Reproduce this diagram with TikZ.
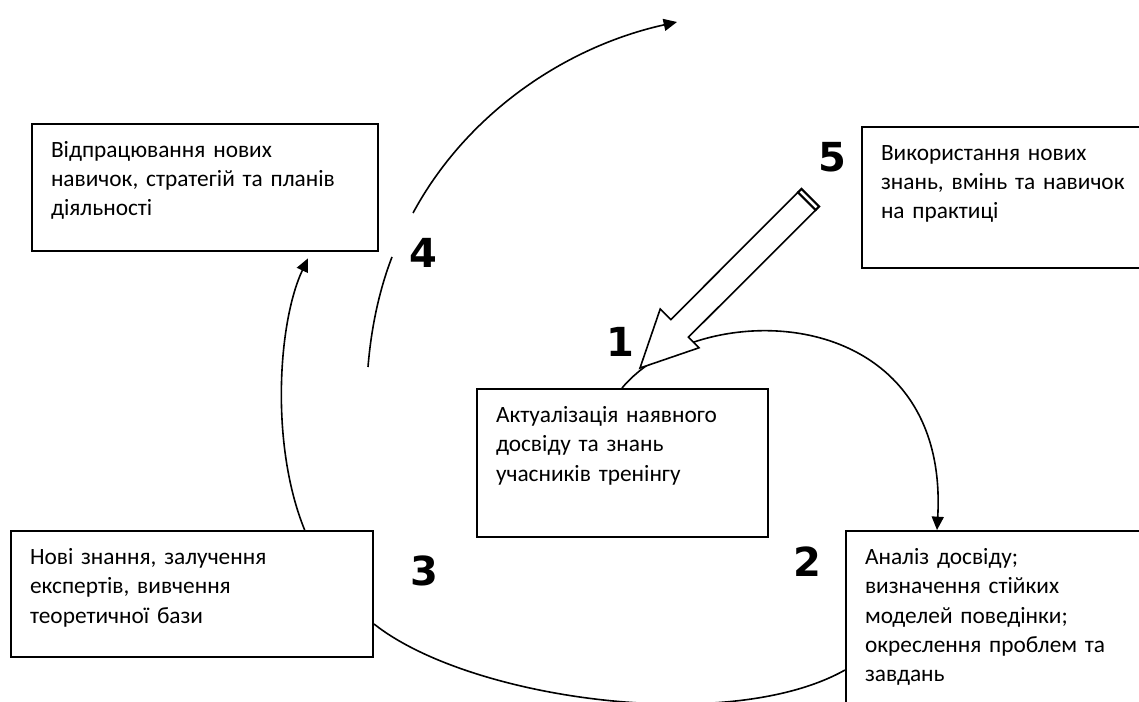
\documentclass[tikz,border=0pt]{standalone}
\usepackage{fontspec}
\setmainfont{Carlito}
\newfontfamily\numfont{DejaVu Sans}
\usetikzlibrary{calc}
\usetikzlibrary{positioning}
\usetikzlibrary{arrows.meta}
\tikzset{
  stage/.style={draw, line width=1.5pt, fill=white, anchor=north west, align=left,
    inner xsep=14.25pt, inner ysep=0pt, text height=25pt,
    font=\fontsize{17.5}{22}\selectfont},
  stagenum/.style={font=\numfont\bfseries\fontsize{30}{30}\selectfont},
  flow/.style={line width=1.2pt, -{Triangle[length=10pt,width=9pt]}},
  link/.style={line width=1.2pt}
}
\begin{document}
\begin{tikzpicture}[x=0.75pt, y=-0.75pt]
  \useasboundingbox (0,0) rectangle (1139,702);
  \clip (0,0) rectangle (1139,702);

  \node [stage, text width=231pt, text depth=70.5pt] (practice) at (31,123)
    {Відпрацювання нових\\навичок, стратегій та планів\\діяльності};
  \node [stage, text width=240pt, text depth=81pt] (use) at (861,126)
    {Використання нових\\знань, вмінь та навичок\\на практиці};
  \node [stage, text width=189.75pt, text depth=86.25pt] (actual) at (476,388)
    {Актуалізація наявного\\досвіду та знань\\учасників тренінгу};
  \node [stage, text width=243pt, text depth=69.75pt] (theory) at (10,530)
    {Нові знання, залучення\\експертів, вивчення\\теоретичної бази};
  \node [stage, text width=240pt, text depth=150pt] (analysis) at (845,530)
    {Аналіз досвіду;\\визначення стійких\\моделей поведінки;\\окреслення проблем та\\завдань};

  \node [stagenum] (n1) at (620,342) {1};
  \node [stagenum] (n2) at (807,562) {2};
  \node [stagenum] (n3) at (424,571) {3};
  \node [stagenum] (n4) at (423,253) {4};
  \node [stagenum] (n5) at (832,157) {5};

  \draw [flow] ([xshift=221pt]theory.north west) .. controls (270,445) and (278,322) .. ([xshift=207.75pt, yshift=-4.5pt]practice.south west);
  \draw [flow] ([xshift=109.5pt]actual.north west) .. controls (700,295) and (950,300) .. ([xshift=69pt]analysis.north west);
  \draw [link] ([yshift=-105pt]analysis.north west) .. controls (730,735) and (470,700) .. ([yshift=-70.5pt]theory.north east);

  \coordinate (arcA) at (368,367);
  \coordinate (arcB) at (392,257);
  \coordinate (arcC) at (413,213);
  \coordinate (arcD) at (677,22);
  \draw [link] (arcA) .. controls (371,330) and (378.5,292) .. (arcB);
  \draw [flow] (arcC) .. controls (467,113) and (566,46.5) .. (arcD);

  \draw [link, fill=white, line join=miter] (640,368) -- (660.2,309) -- (670.8,319.6) -- (798,192.3)
    -- (815.7,210) -- (688.4,337.2) -- (699,347.8) -- cycle;
  \draw [line width=1.6pt, fill=white] (798,192.3) -- (801.5,188.8) -- (819.2,206.5) -- (815.7,210) -- cycle;
\end{tikzpicture}
\end{document}
